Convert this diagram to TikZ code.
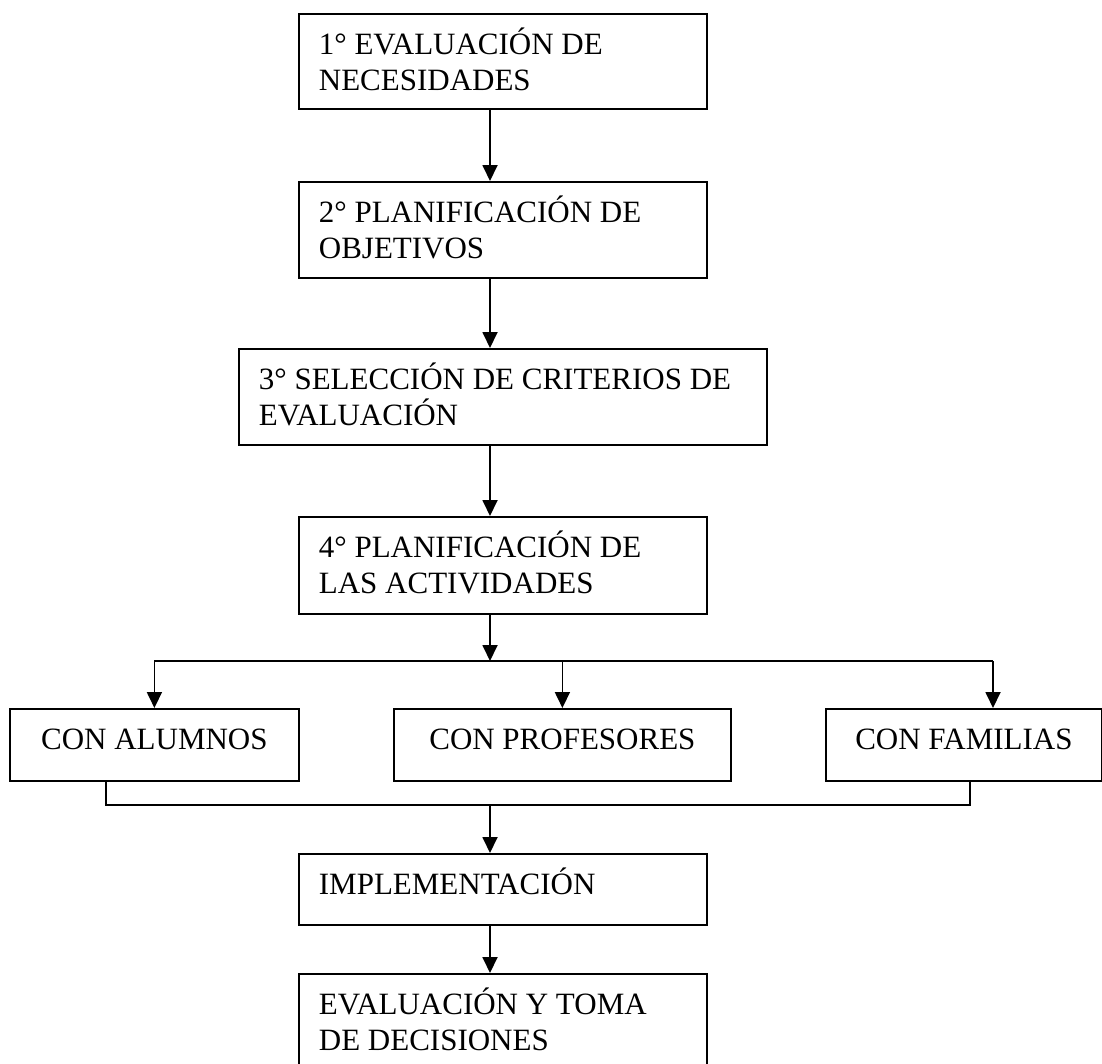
\documentclass[tikz,border=0pt]{standalone}
\usepackage{fontspec}
\setmainfont{Liberation Serif}
\usetikzlibrary{arrows.meta}
\newcommand{\flowtext}[4]{\parbox[c][#2][t]{#1}{#3\vspace*{11pt}\rule{0pt}{30pt}#4}}
\tikzset{
  flowbox/.style={draw, line width=1.8pt, rectangle, inner xsep=20pt, inner ysep=0pt, anchor=north west, font=\fontsize{31}{35.5}\selectfont},
  flowarrow/.style={line width=1.8pt, -{Triangle[length=16pt,width=15pt]}},
  flowline/.style={line width=1.8pt},
}
\begin{document}
\begin{tikzpicture}[x=1pt,y=-1pt]
\useasboundingbox (0,0) rectangle (1102,1063);
\node[flowbox] (b1) at (298,13) {\flowtext{368pt}{95pt}{\raggedright}{1° EVALUACIÓN DE\\NECESIDADES}};
\node[flowbox] (b2) at (298,181) {\flowtext{368pt}{96pt}{\raggedright}{2° PLANIFICACIÓN DE\\OBJETIVOS}};
\node[flowbox] (b3) at (238,348) {\flowtext{488pt}{96pt}{\raggedright}{3° SELECCIÓN DE CRITERIOS DE\\EVALUACIÓN}};
\node[flowbox] (b4) at (298,516) {\flowtext{368pt}{97pt}{\raggedright}{4° PLANIFICACIÓN DE\\LAS ACTIVIDADES}};
\node[flowbox, inner xsep=14pt] (alu) at (9,708) {\flowtext{261pt}{72pt}{\centering}{CON ALUMNOS}};
\node[flowbox, inner xsep=14pt] (pro) at (393,708) {\flowtext{309pt}{72pt}{\centering}{CON PROFESORES}};
\node[flowbox, inner xsep=14pt] (fam) at (825,708) {\flowtext{248pt}{72pt}{\centering}{CON FAMILIAS}};
\node[flowbox] (impl) at (298,853) {\flowtext{368pt}{71pt}{\raggedright}{IMPLEMENTACIÓN}};
\node[flowbox] (dec) at (298,973) {\flowtext{368pt}{96pt}{\raggedright}{EVALUACIÓN Y TOMA\\DE DECISIONES}};
\coordinate (spine) at (490,0);
\coordinate (branch) at (490,661);
\coordinate (merge) at (490,805);
\coordinate (famin) at (993,0);
\coordinate (aluout) at (106,0);
\coordinate (famout) at (970,0);
\draw[flowarrow] (spine |- b1.south) -- (spine |- b2.north);
\draw[flowarrow] (spine |- b2.south) -- (spine |- b3.north);
\draw[flowarrow] (spine |- b3.south) -- (spine |- b4.north);
\draw[flowarrow] (spine |- b4.south) -- (branch);
\draw[flowline] (alu.north |- branch) -- (famin |- branch);
\draw[flowarrow] (alu.north |- branch) -- (alu.north);
\draw[flowarrow] (pro.north |- branch) -- (pro.north);
\draw[flowarrow] (famin |- branch) -- (famin |- fam.north);
\draw[flowline] (aluout |- alu.south) |- (famout |- merge) -- (famout |- fam.south);
\draw[flowarrow] (merge) -- (spine |- impl.north);
\draw[flowarrow] (spine |- impl.south) -- (spine |- dec.north);
\end{tikzpicture}
\end{document}
